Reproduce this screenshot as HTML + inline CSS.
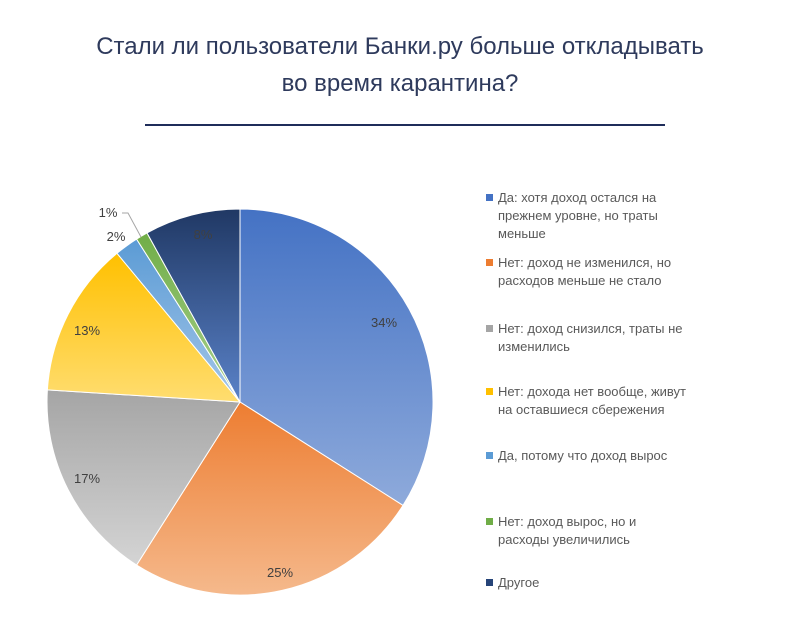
<!DOCTYPE html>
<html><head><meta charset="utf-8"><style>
body{margin:0;background:#fff;width:800px;height:636px;overflow:hidden;font-family:"Liberation Sans","DejaVu Sans",sans-serif}
</style></head><body>
<svg width="800" height="636" xmlns="http://www.w3.org/2000/svg">
<defs>
<linearGradient id="g1" x1="0" y1="0" x2="0" y2="1"><stop offset="0" stop-color="#4472c4"/><stop offset="1" stop-color="#8eaadb"/></linearGradient>
<linearGradient id="g2" x1="0" y1="0" x2="0" y2="1"><stop offset="0" stop-color="#ed7d31"/><stop offset="1" stop-color="#f5b98c"/></linearGradient>
<linearGradient id="g3" x1="0" y1="0" x2="0" y2="1"><stop offset="0" stop-color="#a5a5a5"/><stop offset="1" stop-color="#d4d4d4"/></linearGradient>
<linearGradient id="g4" x1="0" y1="0" x2="0" y2="1"><stop offset="0" stop-color="#ffc000"/><stop offset="1" stop-color="#ffdd70"/></linearGradient>
<linearGradient id="g5" x1="0" y1="0" x2="0" y2="1"><stop offset="0" stop-color="#5b9bd5"/><stop offset="1" stop-color="#a4c6e8"/></linearGradient>
<linearGradient id="g6" x1="0" y1="0" x2="0" y2="1"><stop offset="0" stop-color="#70ad47"/><stop offset="1" stop-color="#a9d18e"/></linearGradient>
<linearGradient id="g7" x1="0" y1="0" x2="0" y2="1"><stop offset="0" stop-color="#203864"/><stop offset="1" stop-color="#5a82c8"/></linearGradient>
</defs>
<text x="400" y="54" text-anchor="middle" font-size="24" fill="#2e3a5c">Стали ли пользователи Банки.ру больше откладывать</text>
<text x="400" y="91" text-anchor="middle" font-size="24" fill="#2e3a5c">во время карантина?</text>
<rect x="145" y="124" width="520" height="2" fill="#1f2d5a"/>
<g stroke="#fff" stroke-width="1">
<path d="M240,402 L240,209 A193,193 0 0 1 403.0,505.4 Z" fill="url(#g1)"/>
<path d="M240,402 L403.0,505.4 A193,193 0 0 1 136.6,565.0 Z" fill="url(#g2)"/>
<path d="M240,402 L136.6,565.0 A193,193 0 0 1 47.4,389.9 Z" fill="url(#g3)"/>
<path d="M240,402 L47.4,389.9 A193,193 0 0 1 117.0,253.3 Z" fill="url(#g4)"/>
<path d="M240,402 L117.0,253.3 A193,193 0 0 1 136.6,239.1 Z" fill="url(#g5)"/>
<path d="M240,402 L136.6,239.1 A193,193 0 0 1 147.0,232.9 Z" fill="url(#g6)"/>
<path d="M240,402 L147.0,232.9 A193,193 0 0 1 240,209 Z" fill="url(#g7)"/>
</g>
<g font-size="13" fill="#404040" text-anchor="middle">
<text x="384" y="327">34%</text>
<text x="280" y="577">25%</text>
<text x="87" y="483">17%</text>
<text x="87" y="335">13%</text>
<text x="116" y="241">2%</text>
<text x="108" y="217">1%</text>
<text x="203" y="239">8%</text>
</g>
<polyline points="122,213 128,213 141,237" fill="none" stroke="#a6a6a6" stroke-width="1"/>
<g font-size="13" fill="#595959">
<rect x="486" y="194" width="7" height="7" fill="#4472c4"/>
<text x="498" y="202">Да: хотя доход остался на</text>
<text x="498" y="220">прежнем уровне, но траты</text>
<text x="498" y="238">меньше</text>
<rect x="486" y="259" width="7" height="7" fill="#ed7d31"/>
<text x="498" y="267">Нет: доход не изменился, но</text>
<text x="498" y="285">расходов меньше не стало</text>
<rect x="486" y="325" width="7" height="7" fill="#a5a5a5"/>
<text x="498" y="333">Нет: доход снизился, траты не</text>
<text x="498" y="351">изменились</text>
<rect x="486" y="388" width="7" height="7" fill="#ffc000"/>
<text x="498" y="396">Нет: дохода нет вообще, живут</text>
<text x="498" y="414">на оставшиеся сбережения</text>
<rect x="486" y="452" width="7" height="7" fill="#5b9bd5"/>
<text x="498" y="460">Да, потому что доход вырос</text>
<rect x="486" y="518" width="7" height="7" fill="#70ad47"/>
<text x="498" y="526">Нет: доход вырос, но и</text>
<text x="498" y="544">расходы увеличились</text>
<rect x="486" y="579" width="7" height="7" fill="#264478"/>
<text x="498" y="587">Другое</text>
</g>
</svg>
</body></html>
